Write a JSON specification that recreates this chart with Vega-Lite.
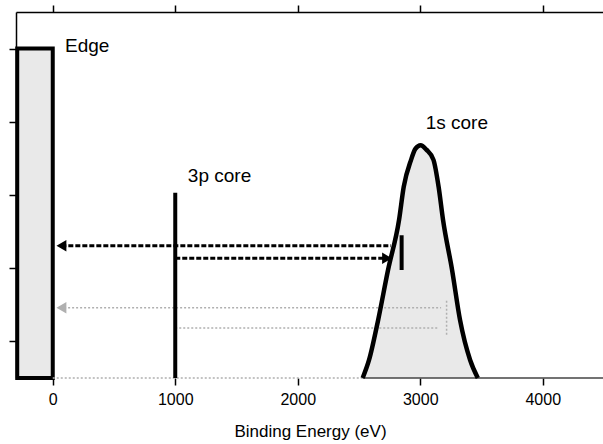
{
  "$schema": "https://vega.github.io/schema/vega-lite/v6.json",
  "width": 588,
  "height": 366,
  "autosize": {"type": "none"},
  "padding": {"left": 16, "top": 12, "right": 0, "bottom": 66},
  "background": "white",
  "config": {
    "view": {"stroke": null},
    "axis": {"grid": false, "labelFont": "Liberation Sans", "titleFont": "Liberation Sans", "labelColor": "black", "titleColor": "black", "tickColor": "black", "domainColor": "black"}
  },
  "datasets": {
    "box": [{"energy": -290, "energy2": 0, "intensity": 0, "intensity2": 4.5}],
    "peak": [
      {"energy": 2530, "intensity": 0},
      {"energy": 2582, "intensity": 0.246},
      {"energy": 2656, "intensity": 0.79},
      {"energy": 2737, "intensity": 1.475},
      {"energy": 2827, "intensity": 2.16},
      {"energy": 2865, "intensity": 2.61},
      {"energy": 2925, "intensity": 2.98},
      {"energy": 2960, "intensity": 3.13},
      {"energy": 3003, "intensity": 3.18},
      {"energy": 3050, "intensity": 3.12},
      {"energy": 3108, "intensity": 2.98},
      {"energy": 3150, "intensity": 2.61},
      {"energy": 3186, "intensity": 2.16},
      {"energy": 3260, "intensity": 1.475},
      {"energy": 3325, "intensity": 0.79},
      {"energy": 3407, "intensity": 0.246},
      {"energy": 3470, "intensity": 0}
    ],
    "segments": [
      {"kind": "solid", "energy": 1000, "energy2": 1000, "intensity": 0, "intensity2": 2.53},
      {"kind": "solid", "energy": 2848, "energy2": 2848, "intensity": 1.475, "intensity2": 1.95},
      {"kind": "dashed", "energy": 70, "energy2": 2760, "intensity": 1.807, "intensity2": 1.807},
      {"kind": "dashed", "energy": 1000, "energy2": 2720, "intensity": 1.635, "intensity2": 1.635},
      {"kind": "faint", "energy": 60, "energy2": 3170, "intensity": 0.96, "intensity2": 0.96},
      {"kind": "faint", "energy": 1000, "energy2": 3140, "intensity": 0.683, "intensity2": 0.683},
      {"kind": "faint", "energy": 0, "energy2": 2530, "intensity": 0, "intensity2": 0},
      {"kind": "faint", "energy": 3215, "energy2": 3215, "intensity": 0.59, "intensity2": 1.07},
      {"kind": "baseline", "energy": 2530, "energy2": 4500, "intensity": 0, "intensity2": 0}
    ],
    "arrows": [
      {"kind": "dark", "dir": "left", "energy": 71, "intensity": 1.807},
      {"kind": "dark", "dir": "right", "energy": 2729, "intensity": 1.635},
      {"kind": "faint", "dir": "left", "energy": 71, "intensity": 0.96}
    ],
    "labels": [
      {"label": "Edge", "energy": 100, "intensity": 4.454},
      {"label": "3p core", "energy": 1103, "intensity": 2.678},
      {"label": "1s core", "energy": 3044, "intensity": 3.40}
    ]
  },
  "encoding": {
    "y": {"field": "intensity", "type": "quantitative", "scale": {"domain": [0, 5], "nice": false, "zero": false},
      "axis": {"orient": "left", "values": [0.5, 1.5, 2.5, 3.5, 4.5], "labels": false, "title": null, "tickSize": 7, "tickWidth": 1.5, "domainWidth": 1.5}}
  },
  "layer": [
    {
      "data": {"name": "box"},
      "mark": {"type": "rect", "fill": "#e9e9e9", "stroke": "black", "strokeWidth": 4},
      "encoding": {
        "x": {"field": "energy", "type": "quantitative", "scale": {"domain": [-300, 4500], "nice": false, "zero": false},
          "axis": {"orient": "bottom", "values": [0, 1000, 2000, 3000, 4000], "format": "d", "title": "Binding Energy (eV)", "domain": false, "tickSize": 7, "tickWidth": 1.5, "labelFontSize": 16, "labelPadding": 6, "titleFontSize": 17, "titleFontWeight": "normal", "titlePadding": 16}},
        "x2": {"field": "energy2"},
        "y2": {"field": "intensity2"}
      }
    },
    {
      "data": {"name": "peak"},
      "mark": {"type": "area", "color": "#e9e9e9", "interpolate": "monotone"},
      "encoding": {
        "x": {"field": "energy", "type": "quantitative", "axis": null}
      }
    },
    {
      "data": {"name": "segments"},
      "transform": [{"filter": "datum.kind === 'faint'"}],
      "mark": {"type": "rule", "color": "#b0b0b0", "strokeWidth": 1.5, "strokeDash": [2, 2]},
      "encoding": {
        "x": {"field": "energy", "type": "quantitative", "axis": null},
        "x2": {"field": "energy2"},
        "y2": {"field": "intensity2"}
      }
    },
    {
      "data": {"name": "segments"},
      "transform": [{"filter": "datum.kind === 'baseline'"}],
      "mark": {"type": "rule", "color": "#444444", "strokeWidth": 1.5},
      "encoding": {
        "x": {"field": "energy", "type": "quantitative", "axis": null},
        "x2": {"field": "energy2"},
        "y2": {"field": "intensity2"}
      }
    },
    {
      "data": {"name": "peak"},
      "mark": {"type": "line", "color": "black", "strokeWidth": 4.5, "interpolate": "monotone"},
      "encoding": {
        "x": {"field": "energy", "type": "quantitative",
          "axis": {"orient": "top", "values": [0, 1000, 2000, 3000, 4000], "labels": false, "title": null, "tickSize": 7, "tickWidth": 1.5, "domainWidth": 1.5}}
      }
    },
    {
      "data": {"name": "segments"},
      "transform": [{"filter": "datum.kind === 'solid'"}],
      "mark": {"type": "rule", "color": "black", "strokeWidth": 4},
      "encoding": {
        "x": {"field": "energy", "type": "quantitative", "axis": null},
        "x2": {"field": "energy2"},
        "y2": {"field": "intensity2"}
      }
    },
    {
      "data": {"name": "segments"},
      "transform": [{"filter": "datum.kind === 'dashed'"}],
      "mark": {"type": "rule", "color": "black", "strokeWidth": 3, "strokeDash": [5, 2]},
      "encoding": {
        "x": {"field": "energy", "type": "quantitative", "axis": null},
        "x2": {"field": "energy2"},
        "y2": {"field": "intensity2"}
      }
    },
    {
      "data": {"name": "arrows"},
      "mark": {"type": "point", "filled": true, "opacity": 1, "size": 130},
      "encoding": {
        "x": {"field": "energy", "type": "quantitative", "axis": null},
        "shape": {"field": "dir", "type": "nominal", "scale": {"domain": ["left", "right"], "range": ["triangle-left", "triangle-right"]}, "legend": null},
        "color": {"field": "kind", "type": "nominal", "scale": {"domain": ["dark", "faint"], "range": ["black", "#b0b0b0"]}, "legend": null}
      }
    },
    {
      "data": {"name": "labels"},
      "mark": {"type": "text", "align": "left", "baseline": "alphabetic", "font": "Liberation Sans", "fontSize": 19, "color": "black"},
      "encoding": {
        "x": {"field": "energy", "type": "quantitative", "axis": null},
        "text": {"field": "label", "type": "nominal"}
      }
    }
  ]
}
